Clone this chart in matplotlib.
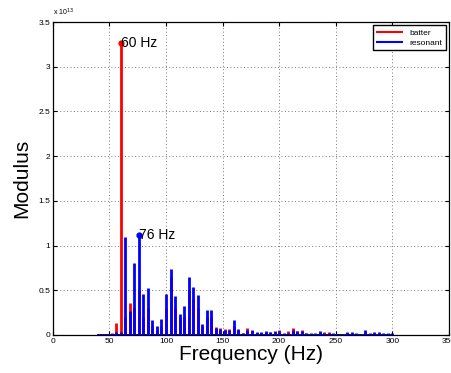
import numpy as np
from matplotlib import pyplot as plt
from matplotlib.ticker import FuncFormatter

# spectrum bins (Hz)
freq = np.arange(40, 301, 4)

# modulus in units of 1e13
batter = np.array([
    0.0, 0.0, 0.005, 0.02, 0.134, 3.26, 0.2, 0.354, 0.3, 0.5,
    0.2, 0.3, 0.1, 0.05, 0.1, 0.3, 0.65, 0.3, 0.2, 0.2,
    0.5, 0.4, 0.3, 0.1, 0.2, 0.2, 0.086, 0.083, 0.07, 0.065,
    0.1, 0.05, 0.02, 0.075, 0.04, 0.02, 0.02, 0.03, 0.03, 0.03,
    0.06, 0.015, 0.045, 0.075, 0.048, 0.056, 0.02, 0.015, 0.015, 0.03,
    0.03, 0.03, 0.015, 0.01, 0.01, 0.02, 0.02, 0.015, 0.01, 0.03,
    0.015, 0.02, 0.02, 0.015, 0.01, 0.01,
]) * 1e13

resonant = np.array([
    0.0, 0.0, 0.005, 0.015, 0.035, 0.03, 1.10, 0.265, 0.806, 1.115,
    0.463, 0.522, 0.164, 0.097, 0.175, 0.455, 0.739, 0.44, 0.239, 0.325,
    0.646, 0.537, 0.444, 0.12, 0.284, 0.284, 0.075, 0.07, 0.06, 0.055,
    0.165, 0.07, 0.026, 0.06, 0.06, 0.03, 0.03, 0.048, 0.036, 0.045,
    0.045, 0.02, 0.02, 0.05, 0.045, 0.04, 0.022, 0.02, 0.02, 0.045,
    0.025, 0.02, 0.02, 0.01, 0.01, 0.037, 0.034, 0.02, 0.015, 0.05,
    0.025, 0.03, 0.034, 0.022, 0.018, 0.018,
]) * 1e13

series = [('batter', batter, '#ff0000'), ('resonant', resonant, '#0000ff')]

plt.rcParams['font.family'] = ['Liberation Sans', 'DejaVu Sans']

fig = plt.figure(figsize=(4.52, 3.73), dpi=100)
ax = fig.add_axes([0.117, 0.102, 0.876, 0.839])

for name, vals, col in series:
    ax.vlines(freq, 0, vals, color=col, lw=2.0, label=name)
    ax.plot([freq[0], freq[-1]], [0, 0], color=col, lw=2.0)

for name, vals, col in series:
    i = np.argmax(vals)
    ax.plot(freq[i], vals[i], 'o', color=col, ms=3.5)
    ax.text(freq[i], vals[i], f'{freq[i]} Hz', fontsize=10, ha='left', va='center')

ax.set_xlim(0, 350)
ax.set_ylim(0, 3.5e13)
ax.set_xticks(np.arange(0, 351, 50))
ax.set_yticks(np.arange(0, 3.51e13, 0.5e13))
ax.yaxis.set_major_formatter(FuncFormatter(lambda v, p: f'{v / 1e13:g}'))
ax.text(0, 1.012, r'x 10$^{13}$', transform=ax.transAxes, fontsize=5, ha='left', va='bottom')

ax.grid(True, linestyle=(0, (1, 2.5)), color='#777777', lw=0.7)
ax.tick_params(direction='in', top=True, right=True, labelsize=6, length=3, pad=2)
for s in ax.spines.values():
    s.set_linewidth(0.9)

ax.set_xlabel('Frequency (Hz)', fontsize=15, labelpad=0)
ax.set_ylabel('Modulus', fontsize=15, labelpad=5)

leg = ax.legend(loc='upper right', fontsize=6, handlelength=3.2, fancybox=False,
                framealpha=1, edgecolor='black', borderaxespad=0.4, labelspacing=0.3)
leg.get_frame().set_linewidth(1.0)
for h in leg.legend_handles:
    h.set_linewidth(1.5)

fig.savefig('out.png', dpi=100)
plt.close(fig)
